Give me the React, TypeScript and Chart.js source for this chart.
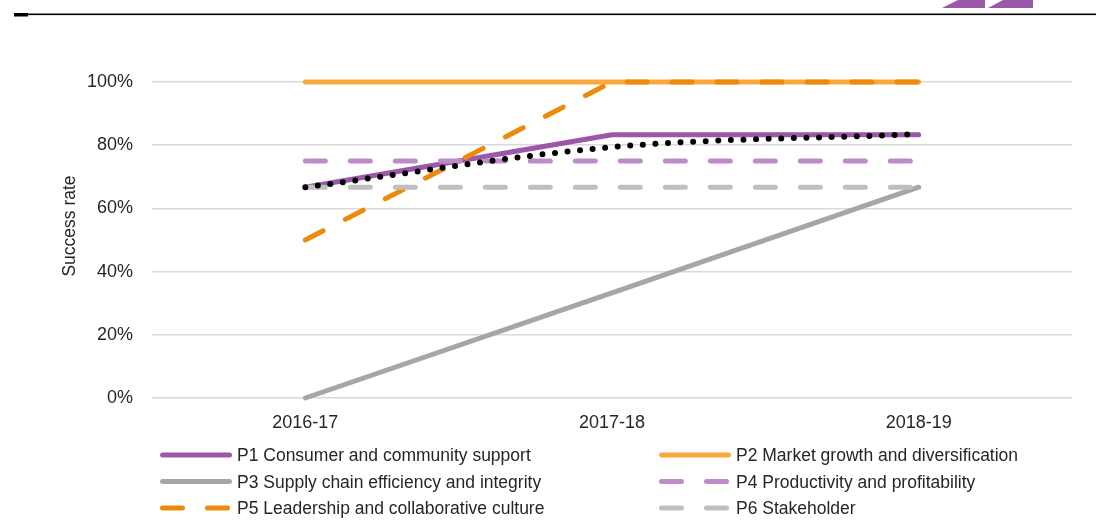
import React, { useEffect, useRef } from "react";
import { Chart, registerables } from "chart.js";

Chart.register(...registerables);

const categories = ["2016-17", "2017-18", "2018-19"];
const p1Values = [66.7, 83.3, 83.3];
const p2Values = [100, 100, 100];
const p3Values = [0, 33.3, 66.7];
const p4Values = [75, 75, 75];
const p5Values = [50, 100, 100];
const p6Values = [66.7, 66.7, 66.7];
const trendValues = [66.7, 79.4, 83.5];

const seriesNames = [
  "P1 Consumer and community support",
  "P2 Market growth and diversification",
  "P3 Supply chain efficiency and integrity",
  "P4 Productivity and profitability",
  "P5 Leadership and collaborative culture",
  "P6 Stakeholder",
];
const seriesColors = ["#9B57A8", "#FBA73C", "#A6A6A6", "#BE8BC8", "#EE8A0A", "#BFBFBF"];
const seriesDashed = [false, false, false, true, true, true];
const seriesValues = [p1Values, p2Values, p3Values, p4Values, p5Values, p6Values];

const yMin = 0;
const yMax = 100;
const yStep = 20;
const yTitle = "Success rate";

const FONT = '"Liberation Sans", Arial, sans-serif';
const TEXT_COLOR = "#262626";
const TICK_SIZE = 18;
const LEGEND_SIZE = 17.5;

export default function App() {
  const canvasRef = useRef<HTMLCanvasElement | null>(null);

  useEffect(() => {
    document.body.style.margin = "0";
    const canvas = canvasRef.current;
    if (!canvas) return;
    const datasets: any[] = seriesValues.map((vals, i) => ({
      label: seriesNames[i],
      data: vals,
      borderColor: seriesColors[i],
      backgroundColor: seriesColors[i],
      borderWidth: 5,
      borderDash: seriesDashed[i] ? [20, 25] : [],
      borderCapStyle: "round",
      borderJoinStyle: "round",
      pointRadius: 0,
      pointHoverRadius: 0,
      tension: 0,
      fill: false,
      clip: 8,
      order: 10 - i,
    }));
    datasets.push({
      label: "Trend",
      data: trendValues,
      borderColor: "#000000",
      borderWidth: 6,
      borderDash: [0, 12.6],
      borderCapStyle: "round",
      pointRadius: 0,
      pointHoverRadius: 0,
      cubicInterpolationMode: "monotone",
      fill: false,
      clip: 8,
      order: 1,
    });

    const chart = new Chart(canvas, {
      type: "line",
      data: { labels: categories, datasets },
      options: {
        animation: false,
        responsive: false,
        maintainAspectRatio: false,
        layout: { padding: { left: 55, top: 82, right: 24, bottom: 0 } },
        plugins: { legend: { display: false }, tooltip: { enabled: false } },
        scales: {
          x: {
            offset: true,
            grid: { display: false },
            border: { display: false },
            ticks: { font: { family: FONT, size: TICK_SIZE }, color: TEXT_COLOR, padding: 6 },
            afterFit: (s: any) => {
              s.height = 122;
            },
          },
          y: {
            min: yMin,
            max: yMax,
            ticks: {
              stepSize: yStep,
              callback: (v: any) => v + "%",
              font: { family: FONT, size: TICK_SIZE },
              color: TEXT_COLOR,
              padding: 19,
            },
            grid: { color: "#D9D9D9", lineWidth: 1.5, drawTicks: false },
            border: { display: false },
            afterFit: (s: any) => {
              s.width = 152 - 55;
            },
          },
        },
      },
    });
    return () => chart.destroy();
  }, []);

  const legendRows = [0, 1, 2];
  const colX = [160, 659];
  const rowY = [455, 481.5, 508];

  return (
    <div style={{ position: "absolute", left: 0, top: 0, width: 1096, height: 520, background: "#fff", overflow: "hidden" }}>
      <canvas ref={canvasRef} width={1096} height={520} style={{ position: "absolute", left: 0, top: 0 }} />
      <svg width={1096} height={520} style={{ position: "absolute", left: 0, top: 0, pointerEvents: "none" }}>
        <rect x={14} y={13.5} width={1082} height={1.6} fill="#000" />
        <rect x={14} y={13} width={14} height={3.5} fill="#000" />
        <polygon points="942,8 958,0 985,0 985,8" fill="#9B57A8" />
        <polygon points="988,8 1003,0 1033,0 1033,8" fill="#9B57A8" />
        <text
          x={0}
          y={0}
          transform="translate(69 226) rotate(-90)"
          textAnchor="middle"
          dominantBaseline="central"
          fontFamily={FONT}
          fontSize={LEGEND_SIZE}
          fill={TEXT_COLOR}
        >
          {yTitle}
        </text>
        {legendRows.map((r) =>
          [0, 1].map((c) => {
            const idx = r * 2 + c;
            const x0 = colX[c];
            const y = rowY[r];
            return (
              <g key={idx}>
                <line
                  x1={x0 + 2.5}
                  y1={y}
                  x2={x0 + 69.5}
                  y2={y}
                  stroke={seriesColors[idx]}
                  strokeWidth={5}
                  strokeLinecap="round"
                  strokeDasharray={seriesDashed[idx] ? "20 25" : undefined}
                />
                <text
                  x={x0 + 77}
                  y={y}
                  dominantBaseline="central"
                  fontFamily={FONT}
                  fontSize={LEGEND_SIZE}
                  fill={TEXT_COLOR}
                >
                  {seriesNames[idx]}
                </text>
              </g>
            );
          })
        )}
      </svg>
    </div>
  );
}
